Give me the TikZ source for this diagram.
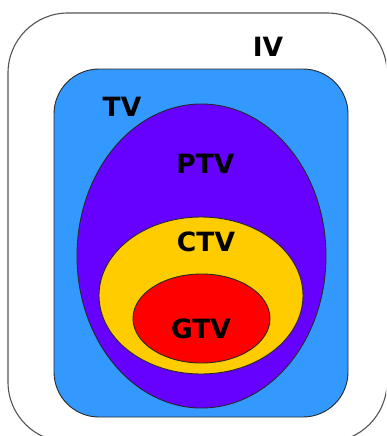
\documentclass[tikz,border=0pt]{standalone}
\usepackage{fontspec}
\setmainfont{DejaVu Sans}
\usetikzlibrary{shapes.geometric}
\definecolor{tvblue}{RGB}{51,153,255}
\definecolor{ptvpurple}{RGB}{102,0,255}
\definecolor{ctvyellow}{RGB}{255,204,0}
\definecolor{gtvred}{RGB}{255,0,0}
\definecolor{edge}{RGB}{40,40,40}
\tikzset{
  region/.style={draw=edge, line width=0.9pt, inner sep=0pt, outer sep=0pt},
  oval/.style={region, ellipse},
  lbl/.style={font=\bfseries\fontsize{26.5}{30}\selectfont, text=black, inner sep=0pt}
}
\begin{document}
\begin{tikzpicture}[x=1pt,y=-1pt]
\useasboundingbox (0,0) rectangle (386,436);
\clip (0,0) rectangle (386,436);
\fill[white] (0,0) rectangle (386,436);
% IV outer rounded box
\draw[draw=edge!80, line width=1.1pt, rounded corners=60pt] (8,13) rectangle (387,442);
% TV blue box
\filldraw[region, fill=tvblue, rounded corners=45pt] (54,69) rectangle (348,417);
% ellipses
\node[oval, fill=ptvpurple, minimum width=249pt, minimum height=304pt] (ptv) at (201.5,256) {};
\node[oval, fill=ctvyellow, minimum width=204pt, minimum height=157pt] (ctv) at (201,295.5) {};
\node[oval, fill=gtvred, minimum width=137pt, minimum height=89pt] (gtv) at (201.5,318.5) {};
% labels
\node[lbl] (iv) at (268,47) {IV};
\node[lbl] (tv) at (122,107) {TV};
\node[lbl] (ptvl) at (205.5,164) {PTV};
\node[lbl] (ctvl) at (206,242) {CTV};
\node[lbl] (gtvl) at (201,329) {GTV};
\end{tikzpicture}
\end{document}
